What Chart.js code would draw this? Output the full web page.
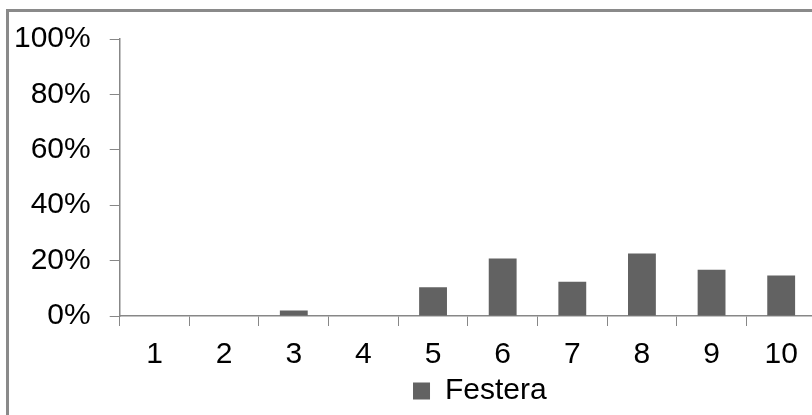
<!DOCTYPE html>
<html>
<head>
<meta charset="utf-8">
<script src="https://cdn.jsdelivr.net/npm/chart.js@4"></script>
<style>
  html, body { margin: 0; padding: 0; background: #fff; overflow: hidden; width: 812px; height: 415px; }
  #frame { position: absolute; left: 6px; top: 9px; width: 900px; height: 500px;
           border-left: 3px solid #8a8a8a; border-top: 3px solid #8a8a8a; }
  #myChart { position: absolute; left: 9px; top: 2px; }
</style>
</head>
<body>
<div id="frame"></div>
<canvas id="myChart" width="807" height="417"></canvas>
<script>
const categories = ["1", "2", "3", "4", "5", "6", "7", "8", "9", "10"];
const festera = [0, 0, 2.0, 0, 10.4, 20.8, 12.4, 22.6, 16.7, 14.6];
const yTicks = [0, 20, 40, 60, 80, 100];

const axisGray = "#878787";
const barGray = "#626262";
const fontFamily = "'Liberation Sans', Arial, sans-serif";

// the legend in the original sits a little right of the plot centre
const legendShift = {
  id: "legendShift",
  afterLayout(chart) {
    chart.legend.left += 12;
    chart.legend.right += 12;
  },
};

const ctx = document.getElementById("myChart");

new Chart(ctx, {
  type: "bar",
  data: {
    labels: categories,
    datasets: [
      {
        label: "Festera",
        data: festera,
        backgroundColor: barGray,
        borderWidth: 0,
        barPercentage: 0.4,
        categoryPercentage: 1,
      },
    ],
  },
  plugins: [legendShift],
  options: {
    responsive: false,
    animation: false,
    layout: {
      padding: { left: -14, right: 0, top: 0, bottom: 3 },
    },
    plugins: {
      legend: {
        position: "bottom",
        fullSize: false,
        labels: {
          boxWidth: 17,
          boxHeight: 17,
          padding: 0,
          color: "#000",
          font: { family: fontFamily, size: 30 },
        },
      },
      tooltip: { enabled: false },
    },
    scales: {
      x: {
        afterFit: (scale) => {
          scale.height -= 8;
        },
        grid: {
          display: true,
          drawOnChartArea: false,
          drawTicks: true,
          tickLength: 10,
          color: axisGray,
          offset: true,
        },
        border: { color: axisGray, width: 1.5 },
        ticks: {
          color: "#000",
          padding: 11,
          font: { family: fontFamily, size: 30 },
          maxRotation: 0,
        },
      },
      y: {
        min: 0,
        max: 100,
        afterBuildTicks: (axis) => {
          axis.ticks = yTicks.map((v) => ({ value: v }));
        },
        grid: {
          drawOnChartArea: false,
          drawTicks: true,
          tickLength: 10,
          color: axisGray,
        },
        border: { color: axisGray, width: 1.5 },
        ticks: {
          color: "#000",
          padding: 19,
          font: { family: fontFamily, size: 30 },
          callback: (v) => v + "%",
        },
      },
    },
  },
});
</script>
</body>
</html>
